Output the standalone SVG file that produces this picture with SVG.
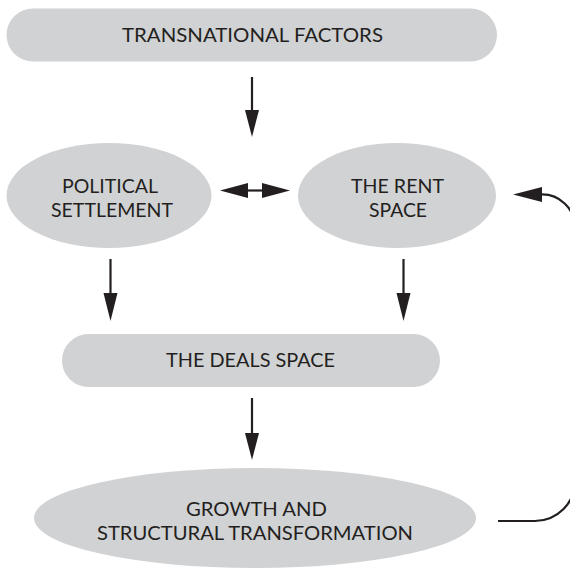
<svg xmlns="http://www.w3.org/2000/svg" width="570" height="571" viewBox="0 0 570 571">
<style>
.n{fill:#d1d2d4;}
.t{font-family:Lato,"Open Sans","Liberation Sans",sans-serif;font-size:19.5px;fill:#231f20;text-anchor:middle;}
.c{stroke:#231f20;stroke-width:2.2;fill:none;}
.h{fill:#231f20;}
</style>
<rect width="570" height="571" fill="#ffffff"/>
<g id="transnational">
<rect class="n" x="6.5" y="8.5" width="490.5" height="53" rx="26.5"/>
<text class="t" x="252.5" y="41.5" textLength="261" lengthAdjust="spacingAndGlyphs">TRANSNATIONAL FACTORS</text>
</g>
<g id="political">
<ellipse class="n" cx="109" cy="195.5" rx="102.5" ry="52.5"/>
<text class="t" x="110" y="193" textLength="96" lengthAdjust="spacingAndGlyphs">POLITICAL</text>
<text class="t" x="112" y="217" textLength="122" lengthAdjust="spacingAndGlyphs">SETTLEMENT</text>
</g>
<g id="rent">
<ellipse class="n" cx="397" cy="195.5" rx="99" ry="52.5"/>
<text class="t" x="397.5" y="193" textLength="93" lengthAdjust="spacingAndGlyphs">THE RENT</text>
<text class="t" x="398" y="217" textLength="58" lengthAdjust="spacingAndGlyphs">SPACE</text>
</g>
<g id="deals">
<rect class="n" x="62" y="334" width="378" height="53" rx="26.5"/>
<text class="t" x="250.5" y="367" textLength="169" lengthAdjust="spacingAndGlyphs">THE DEALS SPACE</text>
</g>
<g id="growth">
<ellipse class="n" cx="255" cy="518" rx="221" ry="50"/>
<text class="t" x="256.5" y="516" textLength="141" lengthAdjust="spacingAndGlyphs">GROWTH AND</text>
<text class="t" x="255" y="540" textLength="316" lengthAdjust="spacingAndGlyphs">STRUCTURAL TRANSFORMATION</text>
</g>
<g id="connectors">
<line class="c" x1="252" y1="77" x2="252" y2="112"/>
<polygon class="h" points="245,110 259,110 252,137"/>
<line class="c" x1="110.5" y1="259" x2="110.5" y2="295"/>
<polygon class="h" points="103.5,293 117.5,293 110.5,321"/>
<line class="c" x1="403.5" y1="259" x2="403.5" y2="295"/>
<polygon class="h" points="396.5,293 410.5,293 403.5,321"/>
<line class="c" x1="252" y1="398" x2="252" y2="435"/>
<polygon class="h" points="245,433 259,433 252,460"/>
<line class="c" x1="246" y1="190.5" x2="265" y2="190.5"/>
<polygon class="h" points="220,190.5 248,183 248,198"/>
<polygon class="h" points="290,190.5 262,183 262,198"/>
<path class="c" stroke-width="2.6" d="M498,521 H535 A40,40 0 0 0 575,481 V227.5 A33,33 0 0 0 540,194.5"/>
<polygon class="h" points="513,194.5 542,187 542,202"/>
</g>
</svg>
